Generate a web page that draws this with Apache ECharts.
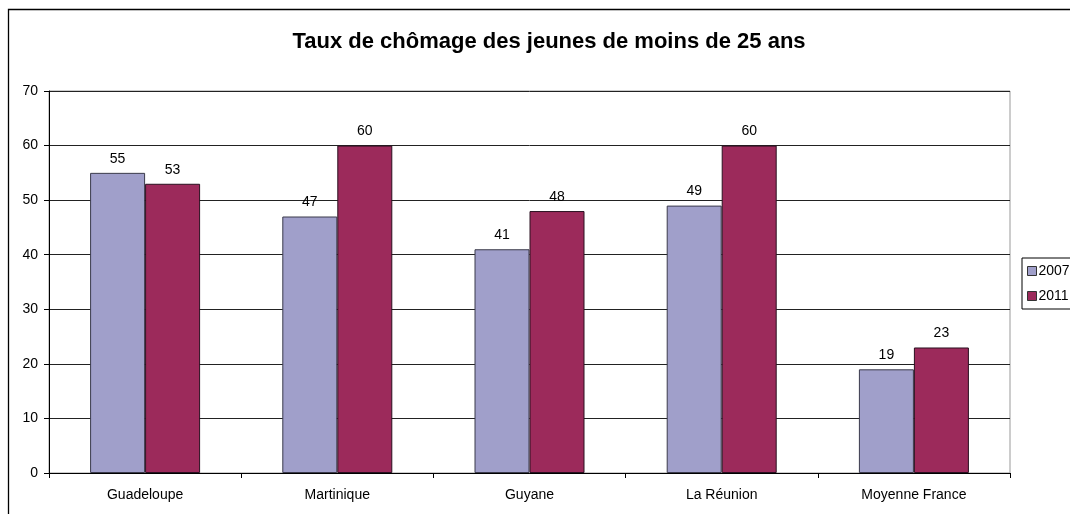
<!DOCTYPE html>
<html>
<head>
    <meta charset="utf-8">
    <title>Taux de chômage des jeunes</title>
    <script src="https://cdn.jsdelivr.net/npm/echarts@6/dist/echarts.min.js"></script>
    <style>
        html, body { margin: 0; padding: 0; background: #fff; }
        #main { width: 1070px; height: 514px; }
    </style>
</head>
<body>
<div id="main"></div>
<script>
    // données
    var categories = ['Guadeloupe', 'Martinique', 'Guyane', 'La Réunion', 'Moyenne France'];
    var values2007 = [55, 47, 41, 49, 19];
    var values2011 = [53, 60, 48, 60, 23];
    var yTicks = [0, 10, 20, 30, 40, 50, 60, 70];

    var myChart = echarts.init(document.getElementById('main'));
    var font = 'Liberation Sans, Arial, sans-serif';

    var option = {
        animation: false,
        textStyle: { fontFamily: font },
        title: {
            text: 'Taux de chômage des jeunes de moins de 25 ans',
            left: 544,
            textAlign: 'center',
            top: 26,
            textStyle: { fontSize: 22, fontWeight: 'bold', color: '#000', fontFamily: font }
        },
        graphic: [{
            type: 'rect',
            shape: { x: 8.5, y: 9.5, width: 1200, height: 600 },
            style: { fill: 'none', stroke: '#000', lineWidth: 1.3 },
            silent: true
        }],
        legend: {
            orient: 'vertical',
            left: 1022,
            top: 258,
            icon: 'rect',
            itemWidth: 9,
            itemHeight: 9,
            itemGap: 11,
            padding: [6, 8, 6, 5],
            borderColor: '#000',
            borderWidth: 1,
            textStyle: { fontSize: 14, color: '#000', fontFamily: font, padding: [0, 0, 0, -3] },
            data: [
                { name: '2007', itemStyle: { borderColor: '#333', borderWidth: 1 } },
                { name: '2011', itemStyle: { borderColor: '#333', borderWidth: 1 } }
            ]
        },
        grid: {
            left: 49,
            top: 91,
            width: 961,
            height: 382,
            show: true,
            borderColor: '#999',
            borderWidth: 1
        },
        xAxis: {
            type: 'category',
            data: categories,
            axisLine: { lineStyle: { color: '#000', width: 1 } },
            axisTick: { show: true, length: 5, inside: false, lineStyle: { color: '#000' } },
            axisLabel: { fontSize: 14, color: '#000', margin: 15, fontFamily: font }
        },
        yAxis: {
            type: 'value',
            min: yTicks[0],
            max: yTicks[yTicks.length - 1],
            interval: 10,
            axisLine: { show: true, lineStyle: { color: '#000', width: 1 } },
            axisTick: { show: true, length: 5, lineStyle: { color: '#000' } },
            axisLabel: { fontSize: 14, color: '#000', margin: 11, fontFamily: font },
            splitLine: { lineStyle: { color: '#222', width: 1 } }
        },
        series: [
            {
                name: '2007',
                type: 'bar',
                data: values2007,
                barWidth: 55,
                barGap: '0%',
                itemStyle: { color: '#A09FCA', borderColor: '#3a3a4a', borderWidth: 1 },
                label: { show: true, position: 'top', distance: 7, fontSize: 14, color: '#000', fontFamily: font }
            },
            {
                name: '2011',
                type: 'bar',
                data: values2011,
                barWidth: 55,
                barGap: '0%',
                itemStyle: { color: '#9C2A5B', borderColor: '#2a1020', borderWidth: 1 },
                label: { show: true, position: 'top', distance: 7, fontSize: 14, color: '#000', fontFamily: font }
            }
        ]
    };

    myChart.setOption(option);
</script>
</body>
</html>
